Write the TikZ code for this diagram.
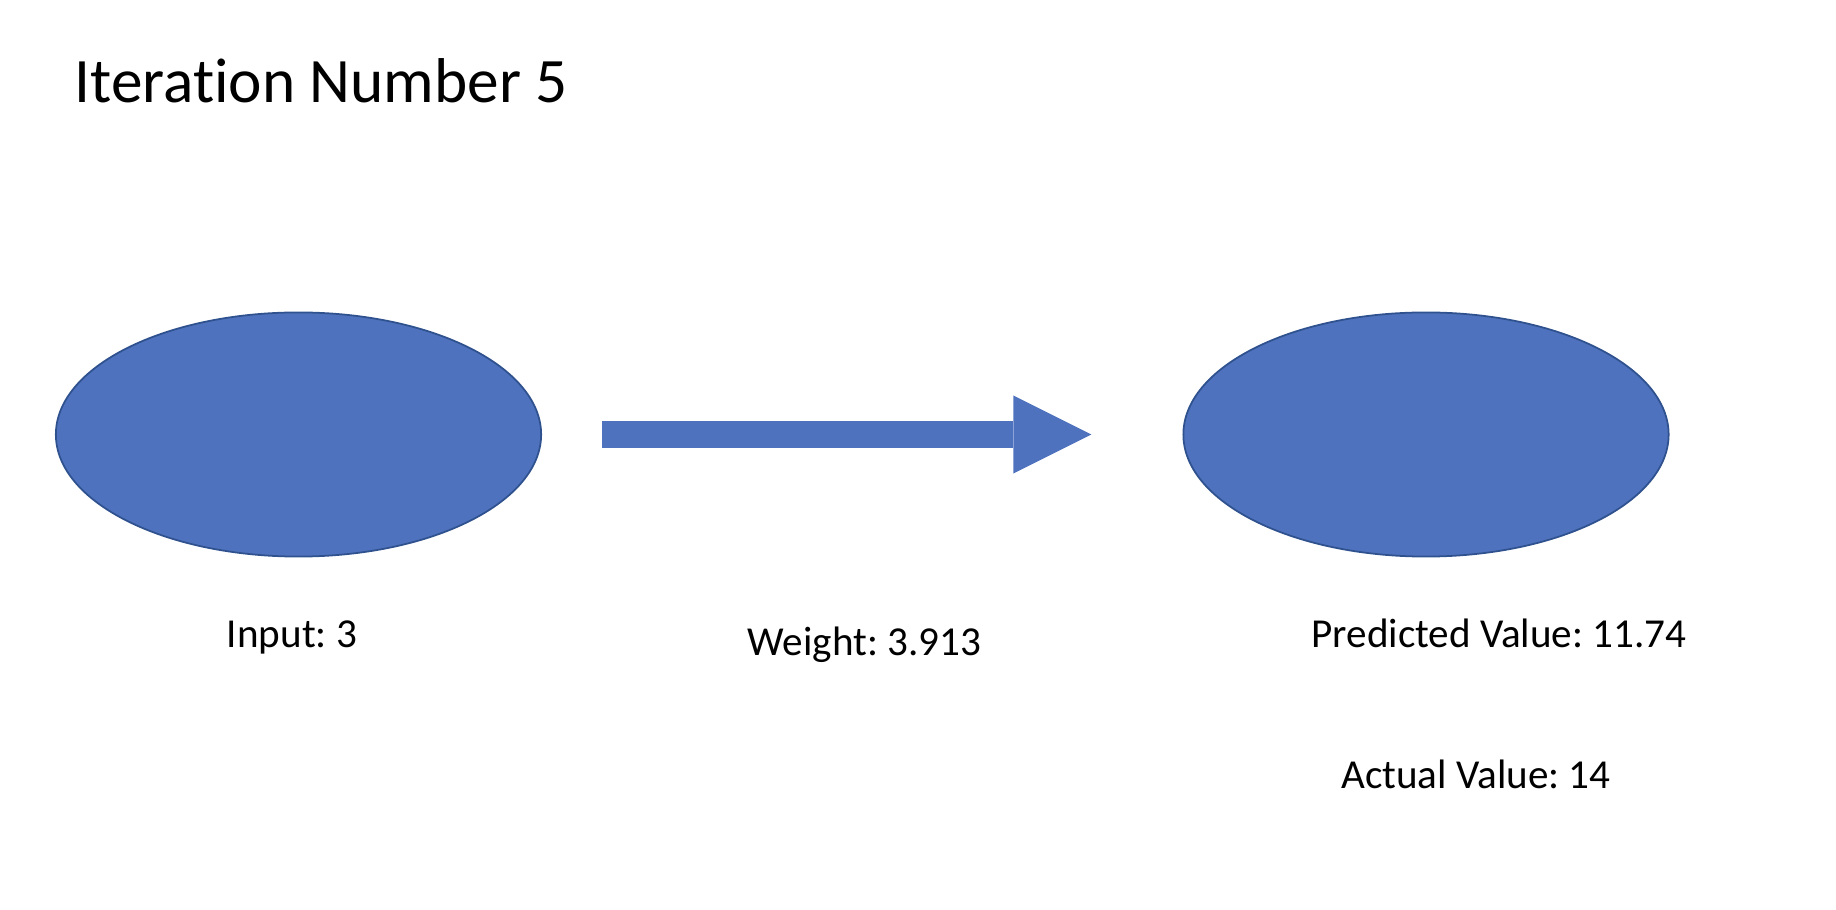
\documentclass[tikz,border=0pt]{standalone}
\usepackage{fontspec}
\setmainfont{Carlito}[Ligatures=NoCommon]
\frenchspacing
\usetikzlibrary{shapes.geometric,arrows.meta}

\definecolor{nodeblue}{RGB}{78,114,190}
\definecolor{nodeline}{RGB}{47,82,143}

\begin{document}
\begin{tikzpicture}[x=0.01cm, y=-0.01cm,
  neuron/.style={ellipse, fill=nodeblue, draw=nodeline, line width=0.5pt, minimum width=4.85cm, minimum height=2.44cm, inner sep=0},
  label/.style={inner sep=0, anchor=base, font=\fontsize{11.7}{14}\selectfont}]

\useasboundingbox (0,0) rectangle (1836,910);

\node [inner sep=0, anchor=base west, font=\fontsize{18}{22}\selectfont] (title) at (74,103) {Iteration Number 5};

\node [neuron] (input) at (298.5,434.5) {};
\node [neuron] (output) at (1426,434.5) {};

\draw [nodeblue, line width=0.26cm, shorten <=0.6cm, shorten >=0.91cm, -{Triangle[length=0.78cm, width=0.78cm, line width=0pt]}] (input.east) -- (output.west);

\node [label] (inlabel) at (292,648) {Input: 3};
\node [label] (wlabel) at (864.5,656) {Weight: 3.913};
\node [label] (predlabel) at (1499,648) {Predicted Value: 11.74};
\node [label] (actlabel) at (1476,789) {Actual Value: 14};

\end{tikzpicture}
\end{document}
